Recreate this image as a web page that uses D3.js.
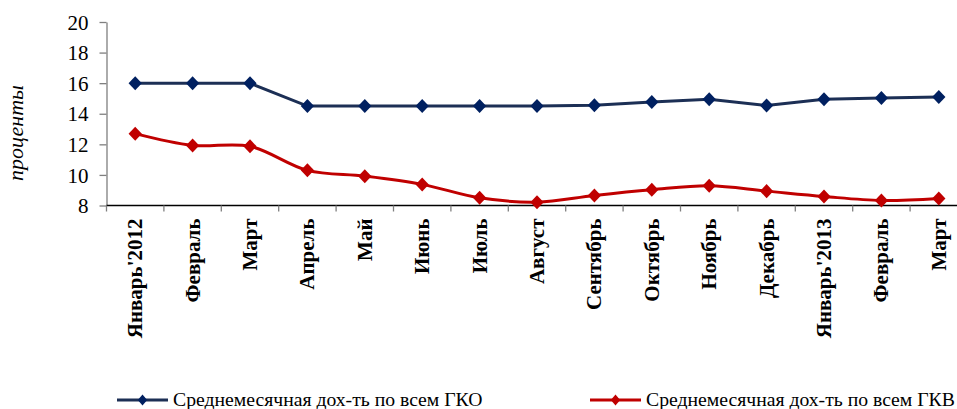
<!DOCTYPE html>
<html>
<head>
<meta charset="utf-8">
<script src="https://cdn.jsdelivr.net/npm/d3@7"></script>
<style>
  body { margin: 0; background: #fff; }
  svg { display: block; }
</style>
</head>
<body>
<svg id="chart" width="957" height="409"></svg>
<script>
// Months on the category axis
const months = ["Январь'2012", "Февраль", "Март", "Апрель", "Май", "Июнь", "Июль",
  "Август", "Сентябрь", "Октябрь", "Ноябрь", "Декабрь", "Январь'2013", "Февраль", "Март"];

// Average monthly yield, %
const gkoValues = [16.0, 16.0, 16.0, 14.5, 14.5, 14.5, 14.5, 14.5, 14.55, 14.77, 14.95, 14.54, 14.95, 15.03, 15.1];
const gkvValues = [12.7, 11.93, 11.87, 10.3, 9.92, 9.38, 8.5, 8.22, 8.66, 9.03, 9.29, 8.94, 8.59, 8.33, 8.46];

const yTicks = [8, 10, 12, 14, 16, 18, 20];

const seriesNames = ["Среднемесячная дох-ть по всем ГКО", "Среднемесячная дох-ть по всем ГКВ"];
const yTitle = "проценты";

(function draw() {
  const FONT = "'Liberation Serif', 'DejaVu Serif', serif";
  const svg = d3.select("#chart");
  const plotLeft = 106.5, plotTop = 22, plotBottom = 205.5, bandW = 57.4;

  const x = d3.scaleBand()
    .domain(months.map((m, i) => i))
    .range([plotLeft, plotLeft + bandW * months.length])
    .paddingInner(0).paddingOuter(0);
  const y = d3.scaleLinear().domain([8, 20]).range([plotBottom, plotTop]);

  // Y axis
  const yAxis = svg.append("g")
    .attr("transform", `translate(${plotLeft},0)`)
    .call(d3.axisLeft(y).tickValues(yTicks).tickSize(7).tickSizeOuter(0));
  yAxis.attr("font-family", FONT).attr("font-size", 21);
  yAxis.select(".domain").attr("stroke", "#7f7f7f").attr("stroke-width", 1.3);
  yAxis.selectAll(".tick line").attr("stroke", "#7f7f7f").attr("stroke-width", 1.3);
  yAxis.selectAll(".tick text")
    .attr("x", -18)
    .attr("dy", "0.34em")
    .attr("fill", "#000")
    .style("font-family", FONT)
    .style("font-size", "21px");

  // X axis with ticks between categories
  const xAxisG = svg.append("g").attr("transform", `translate(0,${plotBottom})`);
  xAxisG.append("line")
    .attr("x1", plotLeft).attr("x2", plotLeft + bandW * months.length)
    .attr("stroke", "#000").attr("stroke-width", 1.3);
  xAxisG.selectAll("line.tk")
    .data(d3.range(months.length + 1))
    .join("line")
    .attr("class", "tk")
    .attr("x1", i => plotLeft + bandW * i).attr("x2", i => plotLeft + bandW * i)
    .attr("y1", 0).attr("y2", 6)
    .attr("stroke", "#7f7f7f").attr("stroke-width", 1.3);
  xAxisG.selectAll("text")
    .data(months)
    .join("text")
    .attr("transform", (d, i) => `translate(${x(i) + x.bandwidth() / 2 + 7},13) rotate(-90)`)
    .attr("text-anchor", "end")
    .style("font-family", FONT)
    .style("font-size", "21px")
    .style("font-weight", "bold")
    .text(d => d);

  // Y title
  svg.append("text")
    .attr("transform", `translate(23,133) rotate(-90)`)
    .attr("text-anchor", "middle")
    .style("font-family", FONT)
    .style("font-size", "22px")
    .style("font-style", "italic")
    .text(yTitle);

  const cx = i => x(i) + x.bandwidth() / 2;
  const diamond = d3.symbol().type(d3.symbolDiamond2).size(125);

  const series = [
    { values: gkoValues, line: "#1c2f55", marker: "#002060", curve: d3.curveLinear },
    { values: gkvValues, line: "#c00000", marker: "#c00000", curve: d3.curveCatmullRom.alpha(0.5) }
  ];

  series.forEach(s => {
    const line = d3.line().x((d, i) => cx(i)).y(d => y(d)).curve(s.curve);
    svg.append("path")
      .attr("d", line(s.values))
      .attr("fill", "none")
      .attr("stroke", s.line)
      .attr("stroke-width", 3);
    svg.append("g").selectAll("path")
      .data(s.values)
      .join("path")
      .attr("transform", (d, i) => `translate(${cx(i)},${y(d)}) scale(0.95,1)`)
      .attr("d", diamond)
      .attr("fill", s.marker);
  });

  // Legend
  const legendItems = [
    { x: 117, name: seriesNames[0], s: series[0] },
    { x: 590, name: seriesNames[1], s: series[1] }
  ];
  const ly = 400;
  legendItems.forEach(it => {
    const g = svg.append("g");
    g.append("line")
      .attr("x1", it.x).attr("x2", it.x + 51)
      .attr("y1", ly).attr("y2", ly)
      .attr("stroke", it.s.line).attr("stroke-width", 3);
    g.append("path")
      .attr("transform", `translate(${it.x + 25.5},${ly}) scale(0.85,1)`)
      .attr("d", d3.symbol().type(d3.symbolDiamond2).size(77))
      .attr("fill", it.s.marker);
    g.append("text")
      .attr("x", it.x + 56).attr("y", ly + 6)
      .style("font-family", FONT)
      .style("font-size", "19.7px")
      .text(it.name);
  });
})();
</script>
</body>
</html>
